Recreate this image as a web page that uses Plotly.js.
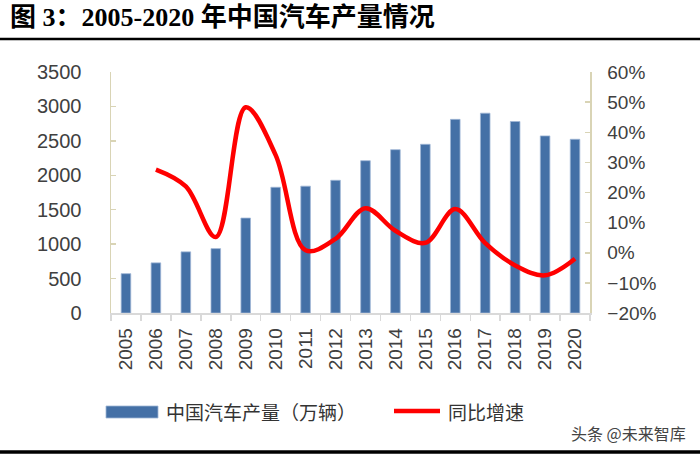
<!DOCTYPE html>
<html>
<head>
<meta charset="utf-8">
<script src="https://cdn.plot.ly/plotly-3.0.1.min.js"></script>
<style>html,body{margin:0;padding:0;background:#fff;}#chart{width:700px;height:457px;}</style>
</head>
<body>
<div id="chart"></div>
<script>
const years = ['2005','2006','2007','2008','2009','2010','2011','2012','2013','2014','2015','2016','2017','2018','2019','2020'];
const production = [571, 728, 888, 935, 1379, 1826, 1842, 1927, 2212, 2372, 2450, 2812, 2902, 2781, 2572, 2523];
const growthYears = ['2006','2007','2008','2009','2010','2011','2012','2013','2014','2015','2016','2017','2018','2019','2020'];
const growth = [0.276, 0.220, 0.052, 0.483, 0.324, 0.008, 0.046, 0.148, 0.073, 0.033, 0.145, 0.032, -0.042, -0.075, -0.020];
const leftTicks = [0, 500, 1000, 1500, 2000, 2500, 3000, 3500];
const rightTicks = [-0.2, -0.1, 0, 0.1, 0.2, 0.3, 0.4, 0.5, 0.6];

const W = 700, H = 457, L = 111, R = 110, T = 72, B = 144;
const pw = W - L - R, ph = H - T - B;
const px = x => (x - L) / pw;
const py = y => (H - B - y) / ph;

const axisBeige = '#d9d4b5';
const tickFont = {family: 'Liberation Sans, Arial, sans-serif', size: 19, color: '#404040'};
const cjk = 'Noto Sans CJK SC, sans-serif';

const data = [
  {type: 'bar', x: years, y: production, name: '中国汽车产量（万辆）',
   marker: {color: '#4470a6', line: {color: '#9fb6d6', width: 0.8}}, width: 0.32, showlegend: false,
   hoverinfo: 'x+y'},
  {type: 'scatter', mode: 'lines', x: growthYears, y: growth, yaxis: 'y2', name: '同比增速',
   line: {color: '#ff0000', width: 4.5, shape: 'spline', smoothing: 1}, showlegend: false}
];

const layout = {
  width: W, height: H,
  margin: {l: L, r: R, t: T, b: B, pad: 0},
  paper_bgcolor: '#ffffff', plot_bgcolor: '#ffffff',
  xaxis: {type: 'category', categoryorder: 'array', categoryarray: years, range: [-0.5, 15.5],
    showline: true, linecolor: '#d9d9d9', linewidth: 1.5, ticks: 'outside', tickson: 'boundaries',
    ticklen: 6, tickcolor: '#d9d9d9', tickwidth: 1.5, tickangle: -90, tickfont: tickFont,
    ticklabelstandoff: 6, showgrid: false, zeroline: false, fixedrange: true},
  yaxis: {range: [0, 3500], tickvals: leftTicks, ticktext: leftTicks.map(String),
    showline: true, linecolor: axisBeige, linewidth: 1.5, ticks: 'inside', ticklen: 5,
    tickcolor: axisBeige, tickwidth: 1.5, tickfont: Object.assign({}, tickFont, {size: 20}),
    ticklabelstandoff: 24, showgrid: false, zeroline: false},
  yaxis2: {range: [-0.2, 0.6], overlaying: 'y', side: 'right', tickvals: rightTicks,
    tickformat: '.0%', showline: true, linecolor: axisBeige, linewidth: 1.5, ticks: 'inside',
    ticklen: 5, tickcolor: axisBeige, tickwidth: 1.5, tickfont: tickFont, ticklabelstandoff: 12,
    showgrid: false, zeroline: false},
  shapes: [
    {type: 'line', xref: 'paper', yref: 'paper', x0: px(0), x1: px(700), y0: py(39), y1: py(39),
     line: {color: '#000', width: 2.5}},
    {type: 'line', xref: 'paper', yref: 'paper', x0: px(0), x1: px(700), y0: py(452), y1: py(452),
     line: {color: '#000', width: 3.5}},
    {type: 'rect', xref: 'paper', yref: 'paper', x0: px(106), x1: px(158), y0: py(406), y1: py(418),
     fillcolor: '#4470a6', line: {color: '#9fb6d6', width: 0.8}},
    {type: 'line', xref: 'paper', yref: 'paper', x0: px(394), x1: px(440), y0: py(411), y1: py(411),
     line: {color: '#ff0000', width: 4.5}}
  ],
  annotations: [
    {xref: 'paper', yref: 'paper', x: px(8), y: py(18), xanchor: 'left', yanchor: 'middle',
     text: '<b>图 3：2005-2020 年中国汽车产量情况</b>', showarrow: false,
     font: {family: 'Liberation Serif, Noto Sans CJK SC, serif', size: 26, color: '#000'}},
    {xref: 'paper', yref: 'paper', x: px(164), y: py(411), xanchor: 'left', yanchor: 'middle',
     text: '中国汽车产量（万辆）', showarrow: false, font: {family: cjk, size: 19, color: '#333'}},
    {xref: 'paper', yref: 'paper', x: px(446), y: py(411), xanchor: 'left', yanchor: 'middle',
     text: '同比增速', showarrow: false, font: {family: cjk, size: 19, color: '#333'}},
    {xref: 'paper', yref: 'paper', x: px(688), y: py(433), xanchor: 'right', yanchor: 'middle',
     text: '头条 @未来智库', showarrow: false, font: {family: cjk, size: 16, color: '#444'}}
  ]
};

Plotly.newPlot('chart', data, layout, {displayModeBar: false, staticPlot: true});
</script>
</body>
</html>
